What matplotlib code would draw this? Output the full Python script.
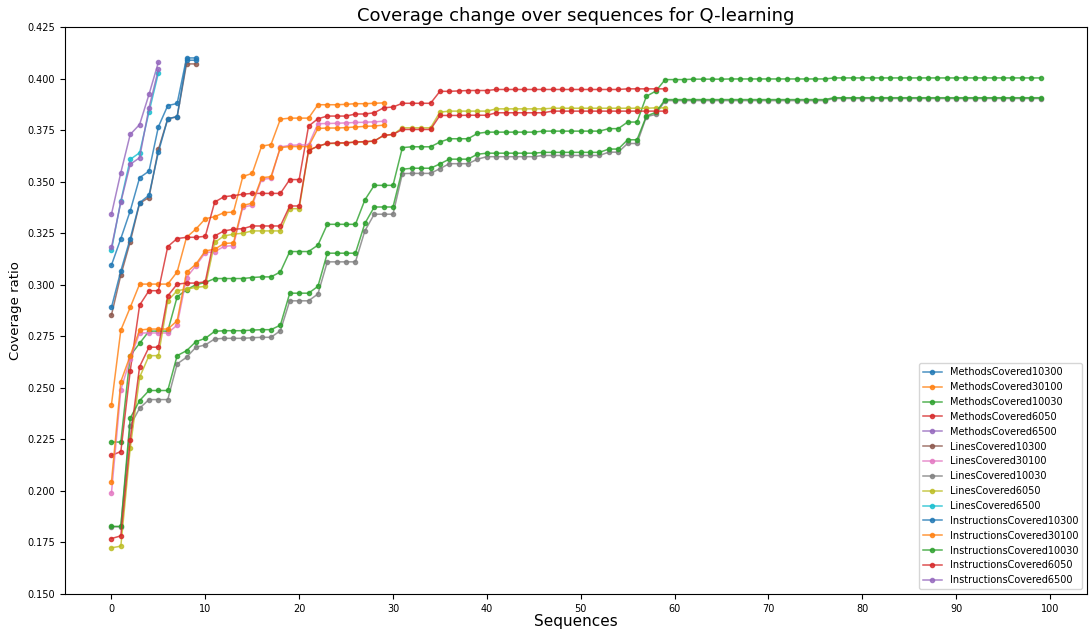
import matplotlib
matplotlib.use('Agg')
import matplotlib.pyplot as plt
from matplotlib.ticker import MultipleLocator, FormatStrFormatter

# valores
methods_10300 = [0.3095, 0.3224, 0.3358, 0.3519, 0.3551, 0.3766, 0.3869, 0.3879, 0.4100, 0.4100]
methods_30100 = [0.2419, 0.2780, 0.2890, 0.3003, 0.3003, 0.3003, 0.3003, 0.3062, 0.3230, 0.3270,
                 0.3320, 0.3330, 0.3350, 0.3352, 0.3525, 0.3540, 0.3672, 0.3680, 0.3803, 0.3808,
                 0.3808, 0.3808, 0.3873, 0.3873, 0.3873, 0.3875, 0.3878, 0.3878, 0.3880, 0.3882]
methods_10030 = [0.2237, 0.2237, 0.2656, 0.2716, 0.2775, 0.2775, 0.2775, 0.2941, 0.2976, 0.3000,
                 0.3011, 0.3030, 0.3030, 0.3030, 0.3030, 0.3035, 0.3038, 0.3038, 0.3062, 0.3161,
                 0.3161, 0.3161, 0.3192, 0.3293, 0.3293, 0.3293, 0.3293, 0.3411, 0.3482, 0.3482,
                 0.3482, 0.3665, 0.3669, 0.3669, 0.3669, 0.3692, 0.3708, 0.3708, 0.3708, 0.3734,
                 0.3740, 0.3740, 0.3740, 0.3740, 0.3740, 0.3740, 0.3745, 0.3745, 0.3745, 0.3745,
                 0.3745, 0.3745, 0.3745, 0.3757, 0.3757, 0.3789, 0.3789, 0.3914, 0.3939, 0.3995,
                 0.3995, 0.3995, 0.3997, 0.3997, 0.3997, 0.3997, 0.3998, 0.3998, 0.3998, 0.3998,
                 0.3998, 0.3998, 0.3998, 0.3998, 0.3998, 0.3998, 0.3998, 0.4003, 0.4003, 0.4003,
                 0.4003, 0.4003, 0.4003, 0.4003, 0.4003, 0.4003, 0.4003, 0.4003, 0.4003, 0.4003,
                 0.4003, 0.4003, 0.4003, 0.4003, 0.4003, 0.4003, 0.4003, 0.4003, 0.4003, 0.4003]
methods_6050 = [0.2172, 0.2191, 0.2583, 0.2901, 0.2971, 0.2971, 0.3185, 0.3224, 0.3230, 0.3230,
                0.3235, 0.3401, 0.3427, 0.3432, 0.3439, 0.3443, 0.3443, 0.3443, 0.3443, 0.3510,
                0.3510, 0.3769, 0.3805, 0.3818, 0.3818, 0.3818, 0.3828, 0.3828, 0.3834, 0.3858,
                0.3862, 0.3880, 0.3880, 0.3880, 0.3880, 0.3938, 0.3938, 0.3940, 0.3942, 0.3942,
                0.3942, 0.3947, 0.3947, 0.3947, 0.3947, 0.3947, 0.3947, 0.3947, 0.3947, 0.3947,
                0.3947, 0.3947, 0.3947, 0.3947, 0.3947, 0.3950, 0.3950, 0.3950, 0.3950, 0.3950]
methods_6500 = [0.3342, 0.3544, 0.3729, 0.3777, 0.3923, 0.4079]

lines_10300 = [0.2853, 0.3047, 0.3208, 0.3395, 0.3423, 0.3656, 0.3805, 0.3815, 0.4071, 0.4071]
lines_30100 = [0.1990, 0.2490, 0.2640, 0.2766, 0.2766, 0.2766, 0.2766, 0.2804, 0.3035, 0.3092,
               0.3156, 0.3160, 0.3186, 0.3190, 0.3377, 0.3385, 0.3511, 0.3516, 0.3668, 0.3676,
               0.3678, 0.3678, 0.3781, 0.3782, 0.3783, 0.3785, 0.3787, 0.3788, 0.3790, 0.3793]
lines_10030 = [0.1826, 0.1826, 0.2317, 0.2401, 0.2443, 0.2443, 0.2443, 0.2616, 0.2648, 0.2697,
               0.2708, 0.2737, 0.2740, 0.2740, 0.2740, 0.2743, 0.2745, 0.2745, 0.2777, 0.2922,
               0.2922, 0.2922, 0.2955, 0.3111, 0.3111, 0.3111, 0.3111, 0.3261, 0.3342, 0.3342,
               0.3342, 0.3539, 0.3540, 0.3540, 0.3540, 0.3563, 0.3587, 0.3587, 0.3587, 0.3609,
               0.3621, 0.3621, 0.3621, 0.3621, 0.3621, 0.3621, 0.3627, 0.3627, 0.3627, 0.3627,
               0.3627, 0.3627, 0.3627, 0.3643, 0.3643, 0.3685, 0.3685, 0.3815, 0.3826, 0.3893,
               0.3893, 0.3893, 0.3893, 0.3893, 0.3893, 0.3893, 0.3893, 0.3893, 0.3893, 0.3893,
               0.3893, 0.3893, 0.3893, 0.3893, 0.3893, 0.3893, 0.3893, 0.3903, 0.3903, 0.3903,
               0.3903, 0.3903, 0.3903, 0.3903, 0.3903, 0.3903, 0.3903, 0.3903, 0.3903, 0.3903,
               0.3903, 0.3903, 0.3903, 0.3903, 0.3903, 0.3903, 0.3903, 0.3903, 0.3903, 0.3903]
lines_6050 = [0.1724, 0.1732, 0.2208, 0.2551, 0.2656, 0.2656, 0.2922, 0.2971, 0.2979, 0.2987,
              0.2992, 0.3205, 0.3237, 0.3245, 0.3250, 0.3261, 0.3261, 0.3261, 0.3261, 0.3369,
              0.3369, 0.3650, 0.3672, 0.3685, 0.3685, 0.3688, 0.3692, 0.3692, 0.3697, 0.3724,
              0.3729, 0.3761, 0.3761, 0.3761, 0.3761, 0.3837, 0.3842, 0.3842, 0.3842, 0.3842,
              0.3842, 0.3853, 0.3853, 0.3853, 0.3853, 0.3853, 0.3853, 0.3856, 0.3856, 0.3856,
              0.3856, 0.3856, 0.3856, 0.3856, 0.3856, 0.3856, 0.3856, 0.3856, 0.3858, 0.3858]
lines_6500 = [0.3169, 0.3406, 0.3608, 0.3640, 0.3837, 0.4027]

instr_10300 = [0.2890, 0.3067, 0.3224, 0.3398, 0.3434, 0.3643, 0.3805, 0.3815, 0.4089, 0.4089]
instr_30100 = [0.2043, 0.2530, 0.2656, 0.2780, 0.2785, 0.2785, 0.2785, 0.2825, 0.3060, 0.3100,
               0.3164, 0.3172, 0.3200, 0.3203, 0.3385, 0.3395, 0.3519, 0.3524, 0.3665, 0.3670,
               0.3670, 0.3670, 0.3758, 0.3760, 0.3760, 0.3762, 0.3765, 0.3768, 0.3770, 0.3774]
instr_10030 = [0.1828, 0.1828, 0.2353, 0.2438, 0.2487, 0.2487, 0.2487, 0.2656, 0.2680, 0.2724,
               0.2740, 0.2774, 0.2777, 0.2777, 0.2777, 0.2780, 0.2782, 0.2782, 0.2804, 0.2959,
               0.2959, 0.2959, 0.2992, 0.3153, 0.3153, 0.3153, 0.3153, 0.3297, 0.3377, 0.3377,
               0.3377, 0.3560, 0.3565, 0.3565, 0.3565, 0.3586, 0.3609, 0.3609, 0.3609, 0.3633,
               0.3638, 0.3638, 0.3638, 0.3638, 0.3638, 0.3638, 0.3642, 0.3642, 0.3642, 0.3642,
               0.3642, 0.3642, 0.3642, 0.3658, 0.3658, 0.3703, 0.3703, 0.3818, 0.3836, 0.3898,
               0.3898, 0.3898, 0.3898, 0.3898, 0.3898, 0.3898, 0.3898, 0.3898, 0.3898, 0.3898,
               0.3898, 0.3898, 0.3898, 0.3898, 0.3898, 0.3898, 0.3898, 0.3907, 0.3907, 0.3907,
               0.3907, 0.3907, 0.3907, 0.3907, 0.3907, 0.3907, 0.3907, 0.3907, 0.3907, 0.3907,
               0.3907, 0.3907, 0.3907, 0.3907, 0.3907, 0.3907, 0.3907, 0.3907, 0.3907, 0.3907]
instr_6050 = [0.1769, 0.1782, 0.2249, 0.2603, 0.2697, 0.2697, 0.2946, 0.3003, 0.3008, 0.3008,
              0.3014, 0.3237, 0.3261, 0.3269, 0.3272, 0.3285, 0.3285, 0.3285, 0.3285, 0.3382,
              0.3382, 0.3651, 0.3672, 0.3685, 0.3688, 0.3688, 0.3692, 0.3694, 0.3697, 0.3724,
              0.3729, 0.3753, 0.3753, 0.3753, 0.3753, 0.3821, 0.3821, 0.3821, 0.3822, 0.3822,
              0.3822, 0.3834, 0.3834, 0.3834, 0.3834, 0.3834, 0.3834, 0.3842, 0.3842, 0.3842,
              0.3842, 0.3842, 0.3842, 0.3842, 0.3842, 0.3842, 0.3842, 0.3842, 0.3842, 0.3842]
instr_6500 = [0.3181, 0.3401, 0.3584, 0.3616, 0.3858, 0.4044]

series = [
    ('MethodsCovered10300', methods_10300),
    ('MethodsCovered30100', methods_30100),
    ('MethodsCovered10030', methods_10030),
    ('MethodsCovered6050', methods_6050),
    ('MethodsCovered6500', methods_6500),
    ('LinesCovered10300', lines_10300),
    ('LinesCovered30100', lines_30100),
    ('LinesCovered10030', lines_10030),
    ('LinesCovered6050', lines_6050),
    ('LinesCovered6500', lines_6500),
    ('InstructionsCovered10300', instr_10300),
    ('InstructionsCovered30100', instr_30100),
    ('InstructionsCovered10030', instr_10030),
    ('InstructionsCovered6050', instr_6050),
    ('InstructionsCovered6500', instr_6500),
]

fig = plt.figure(figsize=(10.89, 6.31), dpi=100)
ax = fig.add_axes([65 / 1089, 1 - 594 / 631, (1087 - 65) / 1089, (594 - 27) / 631])

for nome, valores in series:
    ax.plot(range(len(valores)), valores, marker='o', markersize=3, linewidth=1.1,
            alpha=0.8, label=nome)

ax.set_ylim(0.150, 0.425)
ax.xaxis.set_major_locator(MultipleLocator(10))
ax.yaxis.set_major_locator(MultipleLocator(0.025))
ax.yaxis.set_major_formatter(FormatStrFormatter('%.3f'))
ax.tick_params(labelsize=7)

ax.set_title('Coverage change over sequences for Q-learning', fontsize=13, pad=4)
ax.set_xlabel('Sequences', fontsize=11, labelpad=0)
ax.set_ylabel('Coverage ratio', fontsize=9.5, labelpad=4)
ax.legend(loc='lower right', fontsize=7, labelspacing=0.5)

fig.savefig('out.png', dpi=100)
